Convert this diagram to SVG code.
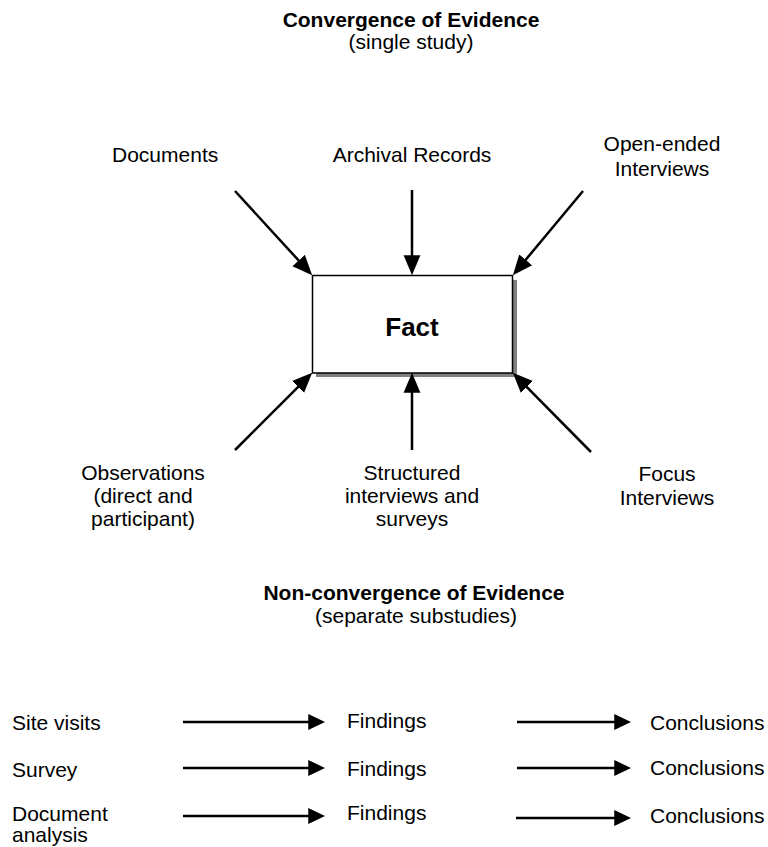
<svg xmlns="http://www.w3.org/2000/svg" width="768" height="847" viewBox="0 0 768 847">
  <style>
    text { font-family: "Liberation Sans", Arial, sans-serif; font-size: 21px; fill: #000; }
    .title { font-weight: bold; }
    .mid { text-anchor: middle; }
    .conn line { stroke: #000; stroke-width: 2.5; fill: none; }
    .big { marker-end: url(#headBig); }
    .small { marker-end: url(#headSmall); }
  </style>
  <defs>
    <marker id="headBig" markerUnits="userSpaceOnUse" markerWidth="20" markerHeight="18" viewBox="0 0 19 16" refX="15" refY="8" orient="auto">
      <path d="M0,0 L19,8 L0,16 z" fill="#000"/>
    </marker>
    <marker id="headSmall" markerUnits="userSpaceOnUse" markerWidth="17" markerHeight="16" viewBox="0 0 16 15" refX="12" refY="7.5" orient="auto">
      <path d="M0,0 L16,7.5 L0,15 z" fill="#000"/>
    </marker>
  </defs>

  <!-- headings -->
  <g id="heading-convergence">
    <text class="title mid" x="411" y="27">Convergence of Evidence</text>
    <text class="mid" x="411" y="49">(single study)</text>
  </g>
  <g id="heading-nonconvergence">
    <text class="title mid" x="414" y="600">Non-convergence of Evidence</text>
    <text class="mid" x="416" y="623">(separate substudies)</text>
  </g>

  <!-- central node -->
  <g id="fact">
    <rect x="316" y="280" width="201" height="97" fill="#808080"/>
    <rect x="312.5" y="275.5" width="200" height="97.5" fill="#fff" stroke="#000" stroke-width="1.5"/>
    <text class="title mid" x="412" y="336" style="font-size:26px">Fact</text>
  </g>

  <!-- evidence sources -->
  <g id="documents"><text x="112" y="162">Documents</text></g>
  <g id="archival-records"><text class="mid" x="412" y="162">Archival Records</text></g>
  <g id="open-ended-interviews">
    <text class="mid" x="662" y="151">Open-ended</text>
    <text class="mid" x="662" y="176">Interviews</text>
  </g>
  <g id="observations">
    <text class="mid" x="143" y="480">Observations</text>
    <text class="mid" x="143" y="503">(direct and</text>
    <text class="mid" x="143" y="526">participant)</text>
  </g>
  <g id="structured-interviews">
    <text class="mid" x="412" y="480">Structured</text>
    <text class="mid" x="412" y="503">interviews and</text>
    <text class="mid" x="412" y="526">surveys</text>
  </g>
  <g id="focus-interviews">
    <text class="mid" x="667" y="481">Focus</text>
    <text class="mid" x="667" y="505">Interviews</text>
  </g>

  <!-- substudy rows -->
  <g id="site-visits"><text x="12" y="730">Site visits</text></g>
  <g id="survey"><text x="12" y="777">Survey</text></g>
  <g id="document-analysis">
    <text x="12" y="821">Document</text>
    <text x="12" y="842">analysis</text>
  </g>
  <g id="findings-1"><text x="347" y="728">Findings</text></g>
  <g id="findings-2"><text x="347" y="776">Findings</text></g>
  <g id="findings-3"><text x="347" y="820">Findings</text></g>
  <g id="conclusions-1"><text x="650" y="730">Conclusions</text></g>
  <g id="conclusions-2"><text x="650" y="775">Conclusions</text></g>
  <g id="conclusions-3"><text x="650" y="823">Conclusions</text></g>

  <!-- connectors -->
  <g id="connectors" class="conn">
    <line class="big" x1="235" y1="191" x2="309.3" y2="272.1"/>
    <line class="big" x1="412" y1="190" x2="412" y2="271"/>
    <line class="big" x1="583" y1="191" x2="515.6" y2="271.9"/>
    <line class="big" x1="235" y1="450" x2="309.2" y2="375.8"/>
    <line class="big" x1="412" y1="450" x2="412" y2="377"/>
    <line class="big" x1="591" y1="452" x2="515.8" y2="375.8"/>

    <line class="small" x1="183" y1="722" x2="321" y2="722"/>
    <line class="small" x1="517" y1="722" x2="627" y2="722"/>
    <line class="small" x1="183" y1="768" x2="321" y2="768"/>
    <line class="small" x1="517" y1="768" x2="627" y2="768"/>
    <line class="small" x1="183" y1="816" x2="321" y2="816"/>
    <line class="small" x1="516" y1="818" x2="627" y2="818"/>
  </g>
</svg>
